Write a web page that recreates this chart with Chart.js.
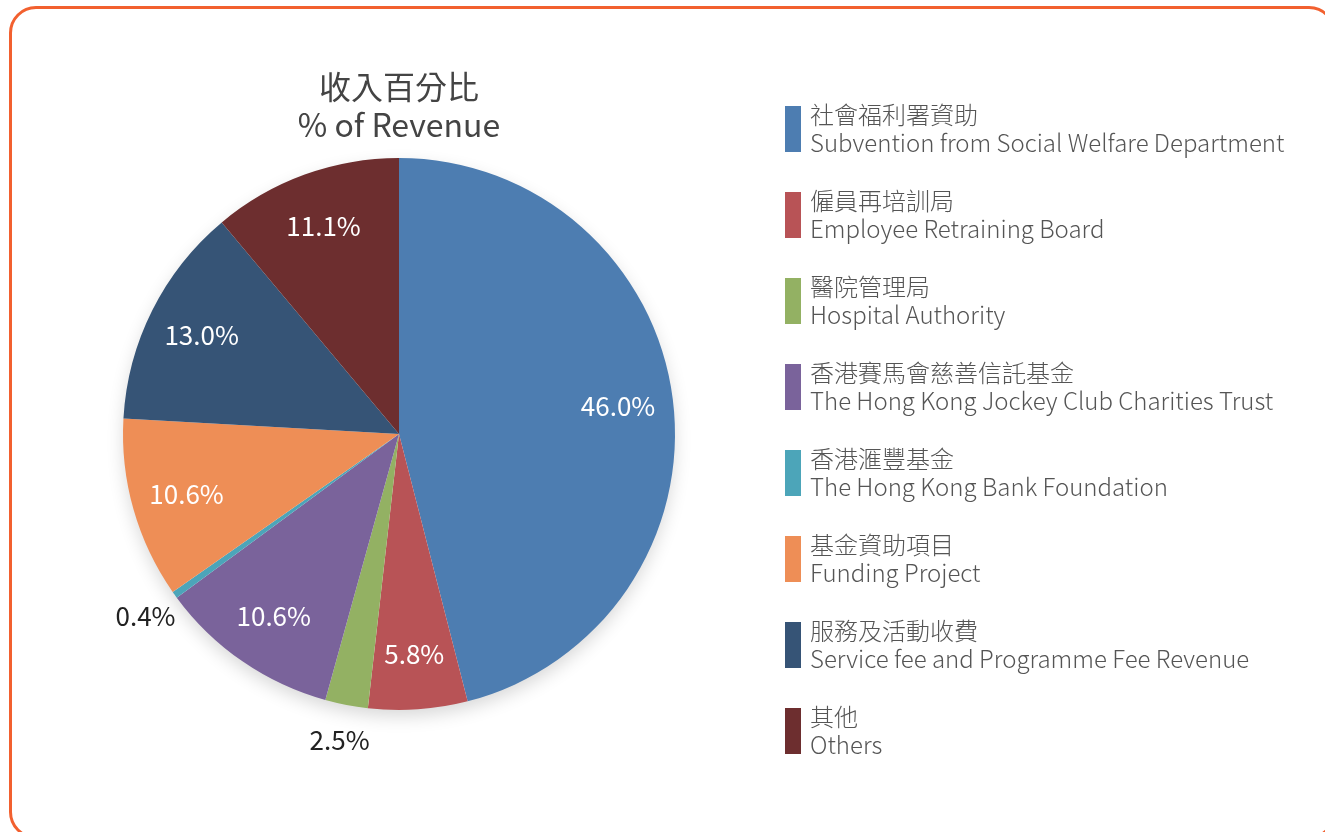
<!DOCTYPE html>
<html>
<head>
<meta charset="utf-8">
<script src="https://cdn.jsdelivr.net/npm/chart.js@4/dist/chart.umd.min.js"></script>
<style>
  html, body { margin: 0; padding: 0; width: 1325px; height: 832px; overflow: hidden; background: #fff;
    font-family: "Noto Sans CJK TC", "Noto Sans", sans-serif; }
  .frame { position: absolute; left: 9px; top: 6px; width: 1327px; height: 833px;
    border: 3px solid #F2602F; border-radius: 27px; box-sizing: border-box; }
  #wrap { position: absolute; left: 0; top: 0; width: 800px; height: 832px; }
  #legend { position: absolute; left: 785px; top: 106px; }
  .item { position: relative; height: 46px; margin-bottom: 40px; }
  .bar { position: absolute; left: 0; top: 0; width: 16px; height: 46px; }
  .txt { position: absolute; left: 25px; top: -6px; line-height: 28px; font-size: 24px; font-weight: 300;
    color: #555; white-space: nowrap; }
</style>
</head>
<body>
<div class="frame"></div>
<div id="wrap"><canvas id="pie" width="800" height="832"></canvas></div>
<div id="legend"></div>
<script>
// Revenue sources (Chinese / English names), share of revenue in percent, slice colours
const sourcesZh = ['社會福利署資助', '僱員再培訓局', '醫院管理局', '香港賽馬會慈善信託基金',
  '香港滙豐基金', '基金資助項目', '服務及活動收費', '其他'];
const sourcesEn = ['Subvention from Social Welfare Department', 'Employee Retraining Board',
  'Hospital Authority', 'The Hong Kong Jockey Club Charities Trust', 'The Hong Kong Bank Foundation',
  'Funding Project', 'Service fee and Programme Fee Revenue', 'Others'];
const shares = [46.0, 5.8, 2.5, 10.6, 0.4, 10.6, 13.0, 11.1];
const sliceColors = ['#4D7DB1', '#B85356', '#93B163', '#7A639B', '#4CA5B9', '#EE8E56', '#365476', '#6D2E2F'];
const titleLines = ['收入百分比', '% of Revenue'];

const FONT = '"Noto Sans CJK TC", "Noto Sans", sans-serif';

// Legend: a colour bar next to the Chinese and English names
const legend = document.getElementById('legend');
sourcesZh.forEach((zh, i) => {
  const item = document.createElement('div');
  item.className = 'item';
  const bar = document.createElement('div');
  bar.className = 'bar';
  bar.style.background = sliceColors[i];
  const txt = document.createElement('div');
  txt.className = 'txt';
  const l1 = document.createElement('div'); l1.textContent = zh;
  const l2 = document.createElement('div'); l2.textContent = sourcesEn[i];
  txt.appendChild(l1); txt.appendChild(l2);
  item.appendChild(bar); item.appendChild(txt);
  legend.appendChild(item);
});

// Soft shadow under the whole pie
const pieShadow = {
  id: 'pieShadow',
  beforeDatasetsDraw(chart) {
    const arc = chart.getDatasetMeta(0).data[0];
    if (!arc) return;
    const ctx = chart.ctx;
    ctx.save();
    ctx.shadowColor = 'rgba(0,0,0,0.16)';
    ctx.shadowBlur = 18;
    ctx.shadowOffsetY = 7;
    ctx.fillStyle = '#ffffff';
    ctx.beginPath();
    ctx.arc(arc.x, arc.y, arc.outerRadius - 1, 0, Math.PI * 2);
    ctx.fill();
    ctx.restore();
  }
};

// Percentage labels: inside large slices, just outside small ones
const sliceLabels = {
  id: 'sliceLabels',
  afterDatasetsDraw(chart) {
    const ctx = chart.ctx;
    const values = chart.data.datasets[0].data;
    ctx.save();
    ctx.font = '26px ' + FONT;
    ctx.textAlign = 'center';
    ctx.textBaseline = 'middle';
    chart.getDatasetMeta(0).data.forEach((arc, i) => {
      const mid = (arc.startAngle + arc.endAngle) / 2;
      const outside = values[i] < 3;
      const r = arc.outerRadius * (outside ? 1.13 : 0.8);
      ctx.fillStyle = outside ? '#222222' : '#ffffff';
      ctx.fillText(values[i].toFixed(1) + '%', arc.x + Math.cos(mid) * r, arc.y + Math.sin(mid) * r);
    });
    ctx.restore();
  }
};

new Chart(document.getElementById('pie'), {
  type: 'pie',
  data: {
    labels: sourcesEn,
    datasets: [{
      data: shares,
      backgroundColor: sliceColors,
      borderWidth: 0,
      hoverOffset: 0
    }]
  },
  options: {
    responsive: false,
    animation: false,
    layout: { padding: { left: 0, right: 2, top: 0, bottom: 122 } },
    plugins: {
      legend: { display: false },
      tooltip: { enabled: false },
      title: {
        display: true,
        text: titleLines,
        color: '#444444',
        font: { family: FONT, size: 32, weight: 'normal', lineHeight: 1.1875 },
        padding: { top: 68, bottom: 14 }
      }
    }
  },
  plugins: [pieShadow, sliceLabels]
});
</script>
</body>
</html>
